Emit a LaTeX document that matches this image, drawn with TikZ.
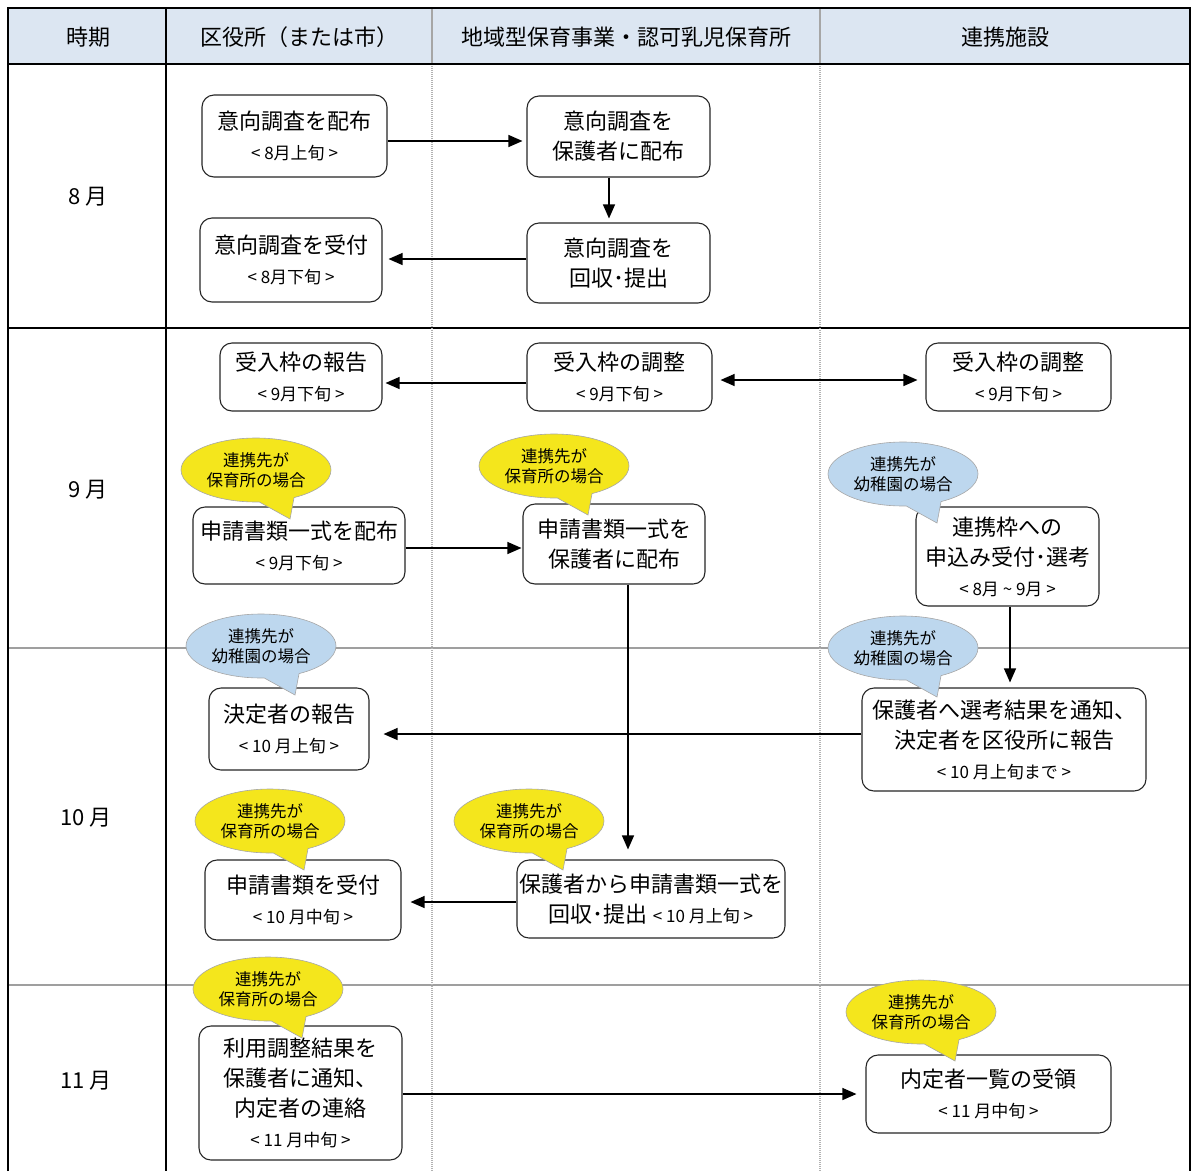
\documentclass[tikz,border=0pt]{standalone}
\usepackage{fontspec}
\setmainfont{Noto Sans CJK JP}
\usetikzlibrary{arrows.meta,shapes.callouts}

\definecolor{headblue}{HTML}{DCE6F2}
\definecolor{noteyellow}{HTML}{F4E61C}
\definecolor{noteblue}{HTML}{BDD7EE}

\newcommand*{\MainFont}{\fontsize{22}{30}\selectfont}
\newcommand*{\DateFont}{\fontsize{17}{30}\selectfont}

\newcommand*{\Bubbles}[1]{% #1 = list of name/x/y/kind
  \foreach \name/\x/\y/\kind in {#1} {
    \node [bubble, \kind, name=\name, at={(\x,\y)},
      callout absolute pointer={(\x+34,\y+49)}];
  }%
}

\tikzset{
  flowbox/.style={draw=black!85, line width=1.1pt, rounded corners=12pt, fill=white,
    align=center, inner sep=0pt, font=\MainFont},
  bubble/.style={ellipse callout, draw=gray!70, line width=0.6pt, inner sep=0pt,
    minimum width=150pt, minimum height=64pt, align=center,
    font=\fontsize{16.5}{20}\selectfont, callout pointer arc=28},
  hoiku/.style={fill=noteyellow, node contents={連携先が\\保育所の場合}},
  yochien/.style={fill=noteblue, node contents={連携先が\\幼稚園の場合}},
  flow/.style={line width=1.2pt, -{Triangle[length=14pt,width=12pt]}, shorten >=5pt},
  headtext/.style={font=\MainFont},
}

\begin{document}
\begin{tikzpicture}[x=1pt,y=-1pt]
  \useasboundingbox (0,0) rectangle (1191,1171);

  % table
  \fill[headblue] (8,8) rectangle (1190,64);
  \draw[gray!75, line width=1.6pt] (8,648) -- (1190,648) (8,985) -- (1190,985);
  \draw[line width=1.6pt] (8,328) -- (1190,328);
  \foreach \cx in {432,820} {
    \draw[gray!70, line width=2.5pt] (\cx,8) -- (\cx,64);
    \draw[gray!60, line width=2.5pt, dash pattern=on 1pt off 1pt] (\cx,64) -- (\cx,1171);
  }
  \draw[line width=2pt] (8,1171) -- (8,8) -- (1190,8) -- (1190,1171);
  \draw[line width=2pt] (166,8) -- (166,1171) (8,64) -- (1190,64);

  \node[headtext] (hTime) at (88,37) {時期};
  \node[headtext] (hWard) at (299,37) {区役所（または市）};
  \node[headtext] (hNursery) at (626,37) {地域型保育事業・認可乳児保育所};
  \node[headtext] (hPartner) at (1005,37) {連携施設};

  \node[headtext] (mAug) at (88,197) {8 月};
  \node[headtext] (mSep) at (88,490) {9 月};
  \node[headtext] (mOct) at (86,818) {10 月};
  \node[headtext] (mNov) at (86,1081) {11 月};

  % steps
  \node[flowbox, minimum width=185pt, minimum height=82pt] (A1) at (294.5,136)
    {意向調査を配布\\{\DateFont < 8月上旬 >}};
  \node[flowbox, minimum width=183pt, minimum height=81pt] (B1) at (618.5,136.5)
    {意向調査を\\保護者に配布};
  \node[flowbox, minimum width=182pt, minimum height=84pt] (A2) at (291,260)
    {意向調査を受付\\{\DateFont < 8月下旬 >}};
  \node[flowbox, minimum width=183pt, minimum height=80pt] (B2) at (618.5,263)
    {意向調査を\\回収･提出};
  \node[flowbox, minimum width=162pt, minimum height=68pt] (A3) at (301,377)
    {受入枠の報告\\{\DateFont < 9月下旬 >}};
  \node[flowbox, minimum width=185pt, minimum height=68pt] (B3) at (619.5,377)
    {受入枠の調整\\{\DateFont < 9月下旬 >}};
  \node[flowbox, minimum width=185pt, minimum height=68pt] (C3) at (1018.5,377)
    {受入枠の調整\\{\DateFont < 9月下旬 >}};
  \node[flowbox, minimum width=212pt, minimum height=77pt] (A4) at (299,545.5)
    {申請書類一式を配布\\{\DateFont < 9月下旬 >}};
  \node[flowbox, minimum width=182pt, minimum height=80pt] (B4) at (614,544)
    {申請書類一式を\\保護者に配布};
  \node[flowbox, minimum width=183pt, minimum height=99pt] (C4) at (1007.5,556.5)
    {連携枠への\\申込み受付･選考\\{\DateFont < 8月 \textasciitilde\ 9月 >}};
  \node[flowbox, minimum width=160pt, minimum height=82pt] (A5) at (289,729)
    {決定者の報告\\{\DateFont < 10 月上旬 >}};
  \node[flowbox, minimum width=284pt, minimum height=103pt] (C5) at (1004,739.5)
    {保護者へ選考結果を通知、\\決定者を区役所に報告\\{\DateFont < 10 月上旬まで >}};
  \node[flowbox, minimum width=196pt, minimum height=80pt] (A6) at (303,900)
    {申請書類を受付\\{\DateFont < 10 月中旬 >}};
  \node[flowbox, minimum width=268pt, minimum height=78pt] (B6) at (651,899)
    {保護者から申請書類一式を\\回収･提出 {\DateFont < 10 月上旬 >}};
  \node[flowbox, minimum width=203pt, minimum height=134pt] (A7) at (300.5,1093)
    {利用調整結果を\\保護者に通知、\\内定者の連絡\\{\DateFont < 11 月中旬 >}};
  \node[flowbox, minimum width=245pt, minimum height=78pt] (C7) at (988.5,1094)
    {内定者一覧の受領\\{\DateFont < 11 月中旬 >}};

  % arrows
  \draw[flow, shorten >=4pt] ([yshift=-5pt]A1.east) -- ([yshift=-5pt]A1.east -| B1.west);
  \draw[flow, shorten >=4pt] ([xshift=-9.5pt]B1.south) -- ([xshift=-9.5pt]B2.north);
  \draw[flow, shorten >=6pt] ([yshift=4pt]B2.west) -- ([yshift=4pt]B2.west -| A2.east);
  \draw[flow, shorten >=3pt] ([yshift=-6pt]B3.west) -- ([yshift=-6pt]B3.west -| A3.east);
  \draw[flow, {Triangle[length=14pt,width=12pt]}-{Triangle[length=14pt,width=12pt]},
    shorten <=8pt, shorten >=8pt] ([yshift=-3pt]B3.east) -- ([yshift=-3pt]B3.east -| C3.west);
  \draw[flow, shorten >=1pt] ([yshift=-2.5pt]A4.east) -- ([yshift=-2.5pt]A4.east -| B4.west);
  \draw[flow, shorten >=10pt] ([xshift=14pt]B4.south) -- ([xshift=14pt]B4.south |- B6.north);
  \draw[flow] ([xshift=2.5pt]C4.south) -- ([xshift=2.5pt]C4.south |- C5.north);
  \draw[flow, shorten >=14pt] ([yshift=5.5pt]C5.west) -- ([yshift=5.5pt]C5.west -| A5.east);
  \draw[flow, shorten >=9pt] ([yshift=-3pt]B6.west) -- ([yshift=-3pt]B6.west -| A6.east);
  \draw[flow, shorten >=9pt] ([yshift=-1pt]A7.east) -- ([yshift=-1pt]A7.east -| C7.west);

  % notes
  \Bubbles{
    nA4/256/470/hoiku,
    nB4/554/466/hoiku,
    nC4/903/474/yochien,
    nA5/261/646/yochien,
    nC5/903/648/yochien,
    nA6/270/821/hoiku,
    nB6/529/821/hoiku,
    nA7/268/989/hoiku,
    nC7/921/1012/hoiku}
\end{tikzpicture}
\end{document}
